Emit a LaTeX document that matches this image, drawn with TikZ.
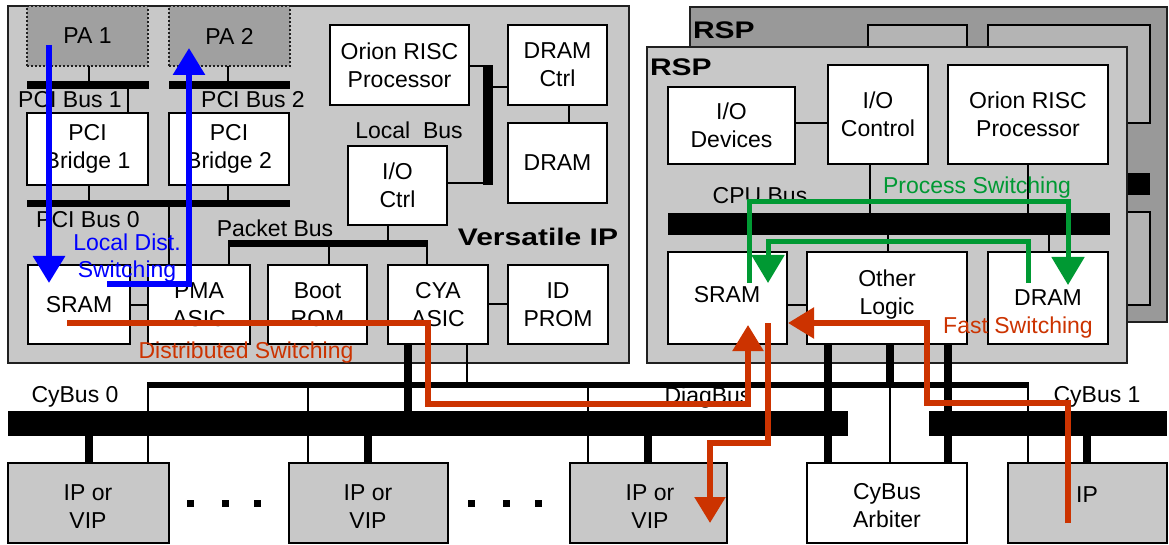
\documentclass[tikz,border=0pt]{standalone}
\usepackage{fontspec}
\setmainfont{Liberation Sans}
\usetikzlibrary{arrows.meta}
\definecolor{pgray}{HTML}{C8C8C8}
\definecolor{dgray}{HTML}{999999}
\definecolor{mgray}{HTML}{B4B4B4}
\definecolor{pagray}{HTML}{A0A0A0}
\definecolor{bl}{HTML}{0000FF}
\definecolor{gr}{HTML}{009933}
\definecolor{orng}{HTML}{CC3300}
\definecolor{edge}{HTML}{202020}
\newcommand\rbox[7]{%
  \pgfmathsetmacro\rbW{#4-#2}\pgfmathsetmacro\rbH{#5-#3}%
  \node[#6, minimum width=\rbW pt, minimum height=\rbH pt] (#1) at ({(#2+#4)/2},{(#3+#5)/2}) {#7};}
\newcommand\vcon[4]{\draw[#4] (#1,0 |- #2) -- (#1,0 |- #3);}
\newcommand\hcon[4]{\draw[#4] (#2 |- 0,#1) -- (#3 |- 0,#1);}
\newcommand\bigb[1]{\scalebox{1.25}[1]{\bfseries\fontsize{24}{28}\selectfont #1}}
\tikzset{
  every node/.style={font=\fontsize{23}{28}\selectfont, inner sep=0pt, outer sep=0pt},
  panel/.style={draw=edge, line width=1.6pt, fill=pgray},
  blk/.style={draw=black, line width=1.6pt, fill=white, align=center},
  graybox/.style={draw=black, line width=1.6pt, fill=pgray, align=center},
  pabox/.style={draw=edge, line width=1.6pt, dash pattern=on 2pt off 2pt, fill=pagray, align=center},
  bus/.style={fill=black, draw=none},
  thinw/.style={draw=black, line width=1.6pt},
  thickw/.style={draw=black, line width=8pt},
  bluew/.style={draw=bl, line width=6pt, -{Triangle[width=31pt,length=27pt]}},
  grw/.style={draw=gr, line width=5pt, -{Triangle[width=32pt,length=28pt]}},
  orw/.style={draw=orng, line width=5.5pt, -{Triangle[width=30pt,length=26pt]}},
  dotsq/.style={fill=black, minimum size=7pt},
}
\begin{document}
\begin{tikzpicture}[x=1pt,y=-1pt]
\useasboundingbox (0,0) rectangle (1169,545);
\clip (0,0) rectangle (1169,545);
\fill[white] (0,0) rectangle (1169,545);

% ---------- Versatile IP ----------
\rbox{vip}{8}{6}{629}{363}{panel}{}
\rbox{pa1}{27}{6}{148}{66}{pabox}{PA 1}
\rbox{pa2}{169}{6}{290}{66}{pabox}{PA 2}
\rbox{pcib1}{27}{81}{149}{89}{bus}{}
\rbox{pcib2}{169}{81}{290}{89}{bus}{}
\rbox{br1}{27}{113}{148}{185}{blk}{PCI\\Bridge 1}
\rbox{br2}{169}{113}{289}{185}{blk}{PCI\\Bridge 2}
\rbox{pcib0}{27}{200}{290}{207}{bus}{}
\rbox{sram}{28}{265}{130}{344}{blk}{SRAM}
\rbox{pma}{148}{265}{250}{344}{blk}{PMA\\ASIC}
\rbox{boot}{268}{265}{367}{344}{blk}{Boot\\ROM}
\rbox{cya}{388}{265}{488}{344}{blk}{CYA\\ASIC}
\rbox{idp}{508}{265}{608}{344}{blk}{ID\\PROM}
\rbox{orion}{330}{25}{469}{105}{blk}{Orion RISC\\Processor}
\rbox{dctl}{508}{25}{607}{105}{blk}{DRAM\\Ctrl}
\rbox{dram}{508}{123}{607}{203}{blk}{DRAM}
\rbox{ioc}{348}{146}{447}{225}{blk}{I/O\\Ctrl}
\rbox{lbus}{483}{65}{493}{185}{bus}{}
\rbox{pbus}{228}{240}{428}{247}{bus}{}

\vcon{89}{pa1.south}{pcib1.north}{thinw}
\vcon{128}{pcib1.south}{br1.north}{thinw}
\vcon{228}{pa2.south}{pcib2.north}{thinw}
\vcon{191}{pcib2.south}{br2.north}{thinw}
\vcon{89}{br1.south}{pcib0.north}{thinw}
\vcon{228}{br2.south}{pcib0.north}{thinw}
\vcon{169}{pcib0.south}{pma.north}{thinw}
\hcon{65.8}{orion.east}{lbus.west}{thinw}
\hcon{87}{lbus.east}{dctl.west}{thinw}
\hcon{183}{ioc.east}{lbus.west}{thinw}
\vcon{569}{dctl.south}{dram.north}{thinw}
\vcon{388}{ioc.south}{pbus.north}{thinw}
\vcon{229}{pbus.south}{pma.north}{thinw}
\vcon{329}{pbus.south}{boot.north}{thinw}
\vcon{427}{pbus.south}{cya.north}{thinw}
\hcon{305}{sram.east}{pma.west}{thinw}
\hcon{304}{cya.east}{idp.west}{thinw}

\node (lpb1) at (70,100) {PCI Bus 1};
\node (lpb2) at (253,100) {PCI Bus 2};
\node (lpb0) at (88,220) {PCI Bus 0};
\node (lpk) at (275,228) {Packet Bus};
\node (llb) at (409,130) {Local\ \ Bus};
\node (lvip) at (538,237) {\bigb{Versatile IP}};

% ---------- RSP back ----------
\rbox{rspb}{690}{7}{1167}{322}{panel, fill=dgray}{}
\rbox{bb1}{868}{25}{967}{100}{blk, fill=mgray}{}
\rbox{bb2}{988}{25}{1150}{123}{blk, fill=mgray}{}
\rbox{bbar}{1100}{173}{1150}{195}{bus}{}
\rbox{bb3}{1090}{212}{1150}{305}{blk, fill=mgray}{}
\node[anchor=west] (lrspb) at (693,30) {\bigb{RSP}};

% ---------- RSP front ----------
\rbox{rspf}{647}{47}{1127}{363}{panel}{}
\node[anchor=west] (lrspf) at (650,67) {\bigb{RSP}};
\rbox{iodev}{668}{87}{795}{164}{blk}{I/O\\Devices}
\rbox{ioctl}{828}{65}{928}{164}{blk}{I/O\\Control}
\rbox{orion2}{948}{65}{1108}{164}{blk}{Orion RISC\\Processor}
\rbox{cpub}{668}{213}{1110}{235}{bus}{}
\rbox{sram2}{668}{252}{787}{344}{blk}{}
\node (lsram2) at (727,295) {SRAM};
\rbox{other}{807}{252}{967}{344}{blk}{}
\node[align=center] (lother) at (887,295) {Other\\Logic};
\rbox{dram2}{988}{252}{1108}{344}{blk}{DRAM}
\hcon{123}{iodev.east}{ioctl.west}{thinw}
\vcon{870}{ioctl.south}{cpub.north}{thinw}
\vcon{1028}{orion2.south}{cpub.north}{thinw}
\vcon{888}{cpub.south}{other.north}{thinw}
\vcon{1049}{cpub.south}{dram2.north}{thinw}
\hcon{305}{sram2.east}{other.west}{thinw}
\node (lcpu) at (760,196) {CPU Bus};

% ---------- bottom buses ----------
\rbox{diag}{149}{382}{1029}{388}{bus}{}
\rbox{cyb0}{8}{411}{848}{436}{bus}{}
\rbox{cyb1}{929}{411}{1167}{436}{bus}{}
\rbox{ip1}{8}{463}{169}{543}{graybox}{}
\rbox{ip2}{289}{463}{448}{543}{graybox}{}
\rbox{ip3}{570}{463}{727}{543}{graybox}{}
\node[align=center] (lip1) at (88,507) {IP or\\VIP};
\node[align=center] (lip2) at (368,507) {IP or\\VIP};
\node[align=center] (lip3) at (650,507) {IP or\\VIP};
\rbox{arb}{807}{463}{967}{543}{blk}{}
\node[align=center] (larb) at (887,506) {CyBus\\Arbiter};
\rbox{ip4}{1008}{463}{1167}{543}{graybox}{}
\node (lip4) at (1087,495) {IP};
\node[dotsq] (d1) at (190,503) {};
\node[dotsq] (d2) at (225,503) {};
\node[dotsq] (d3) at (257,503) {};
\node[dotsq] (d4) at (471,503) {};
\node[dotsq] (d5) at (506,503) {};
\node[dotsq] (d6) at (538,503) {};
\node (lcy0) at (75,397) {CyBus 0};
\node (lcy1) at (1097,397) {CyBus 1};
\node (ldiag) at (708,398) {DiagBus};

\vcon{89}{cyb0.south}{ip1.north}{thickw}
\vcon{148}{diag.north}{ip1.north}{thinw}
\vcon{308}{diag.south}{ip2.north}{thinw}
\vcon{368}{cyb0.south}{ip2.north}{thickw}
\vcon{588}{diag.south}{ip3.north}{thinw}
\vcon{648}{cyb0.south}{ip3.north}{thickw}
\vcon{408}{cya.south}{cyb0.north}{thickw}
\vcon{467}{cya.south}{diag.north}{thinw}
\vcon{828}{other.south}{arb.north}{thickw}
\vcon{890}{other.south}{diag.north}{thickw}
\vcon{890}{diag.south}{arb.north}{thinw}
\vcon{948}{other.south}{arb.north}{thickw}
\vcon{1028}{diag.north}{ip4.north}{thinw}
\vcon{1087}{cyb1.south}{ip4.north}{thickw}

% ---------- switching paths ----------
\coordinate (b1s) at (49,45);
\coordinate (b1e) at (49,283);
\draw[bluew] (b1s) -- (b1e);
\coordinate (b2s) at (107,284);
\coordinate (b2e) at (189,48);
\draw[bluew] (b2s) -| (b2e);
\node[text=bl] (lld) at (127,242) {Local Dist.};
\node[text=bl] (lsw) at (127,272) {Switching};

\coordinate (g1s) at (749,283);
\coordinate (g1e) at (1068,285);
\draw[grw] (g1s) -- (749,202) -- (1068,202) -- (g1e);
\coordinate (g2s) at (1028,283);
\coordinate (g2e) at (768,283);
\draw[grw] (g2s) -- (1028,242) -- (768,242) -- (g2e);
\node[text=gr] (lps) at (977,188) {Process Switching};

\coordinate (o1s) at (67,323);
\coordinate (o1e) at (748,325);
\draw[orw] (o1s) -- (428,323) -- (428,404) -- (748,404) -- (o1e);
\node[text=orng] (lds) at (246,353) {Distributed Switching};

\coordinate (o2s) at (768,323);
\coordinate (o2e) at (710,523);
\draw[orw] (o2s) -- (768,443) -- (710,443) -- (o2e);

\coordinate (o3s) at (1068,523);
\coordinate (o3e) at (788,323);
\draw[orw] (o3s) -- (1068,403) -- (927,403) -- (927,323) -- (o3e);
\node[text=orng] (lfs) at (1018,328) {Fast Switching};
\end{tikzpicture}
\end{document}
